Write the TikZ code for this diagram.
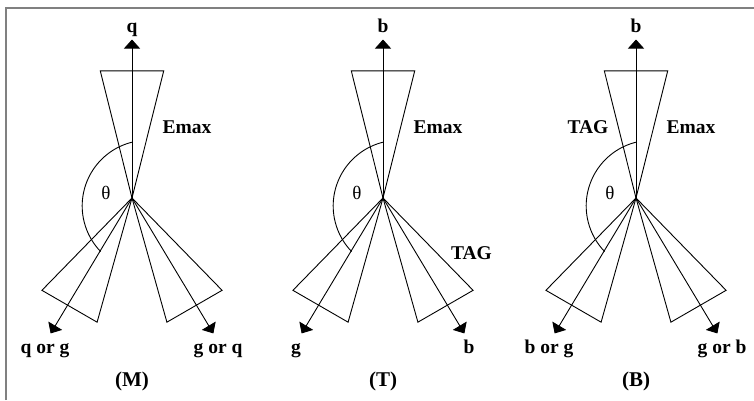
\documentclass[tikz,border=0pt]{standalone}
\usepackage{fontspec}
\setmainfont{Liberation Serif}
\usetikzlibrary{arrows.meta, positioning, calc}

\begin{document}
\begin{tikzpicture}[
    x=1pt, y=1pt,
    cone/.style={draw=black, line width=0.9pt},
    ray/.style={-{Triangle[length=9pt, width=16pt]}, line width=0.9pt, black},
    tag/.style={font=\fontsize{19.5}{21}\selectfont\bfseries, inner sep=0pt, anchor=base},
    panel/.style={tag, font=\fontsize{21}{23}\selectfont\bfseries},
    angle/.style={font=\fontsize{19}{21}\selectfont, inner sep=0pt},
    frame/.style={draw=black!50, line width=2pt},
]
\useasboundingbox (0,0) rectangle (754,400);
\draw[frame] (5.5,0) |- (754,392.3);

\foreach \px/\id/\up/\lft/\rgt/\cap in {132/m/q/q or g/g or q/(M), 383/t/b/g/b/(T), 636/b/b/b or g/g or b/(B)} {
  \coordinate (o\id) at (\px,202);
  \coordinate (tip\id) at ($(o\id)+(90:158.5)$);
  \coordinate (lt\id) at ($(o\id)+(239:158)$);
  \coordinate (rt\id) at ($(o\id)+(301:158)$);
  % cones
  \draw[cone] (o\id) -- +(76:131) -- +(104:131) -- cycle;
  \draw[cone] (o\id) -- +(225.7:129) -- +(254.3:129) -- cycle;
  \draw[cone] (o\id) -- +(285.7:129) -- +(314.3:129) -- cycle;
  % jets
  \draw[ray] (o\id) -- (tip\id);
  \draw[ray] (o\id) -- (lt\id);
  \draw[ray] (o\id) -- (rt\id);
  % opening angle
  \draw[cone] ($(o\id)+(0,55.8)$) arc[start angle=104, end angle=224, radius=65.7];
  \node[angle] (th\id) at ($(o\id)+(-26,5.5)$) {θ};
  \node[tag, above=7pt of tip\id, anchor=base] (up\id) {\up};
  \node[tag] (em\id) at ($(o\id)+(55,65)$) {Emax};
  \node[tag] (lf\id) at ($(o\id)+(-87,-155)$) {\lft};
  \node[tag] (rg\id) at ($(o\id)+(86,-155)$) {\rgt};
  \node[panel] (cap\id) at ($(o\id)+(0,-188)$) {\cap};
}
\node[tag] (tagt) at ($(ot)+(88.5,-61.5)$) {TAG};
\node[tag] (tagb) at ($(ob)+(-48,65)$) {TAG};
\end{tikzpicture}
\end{document}
